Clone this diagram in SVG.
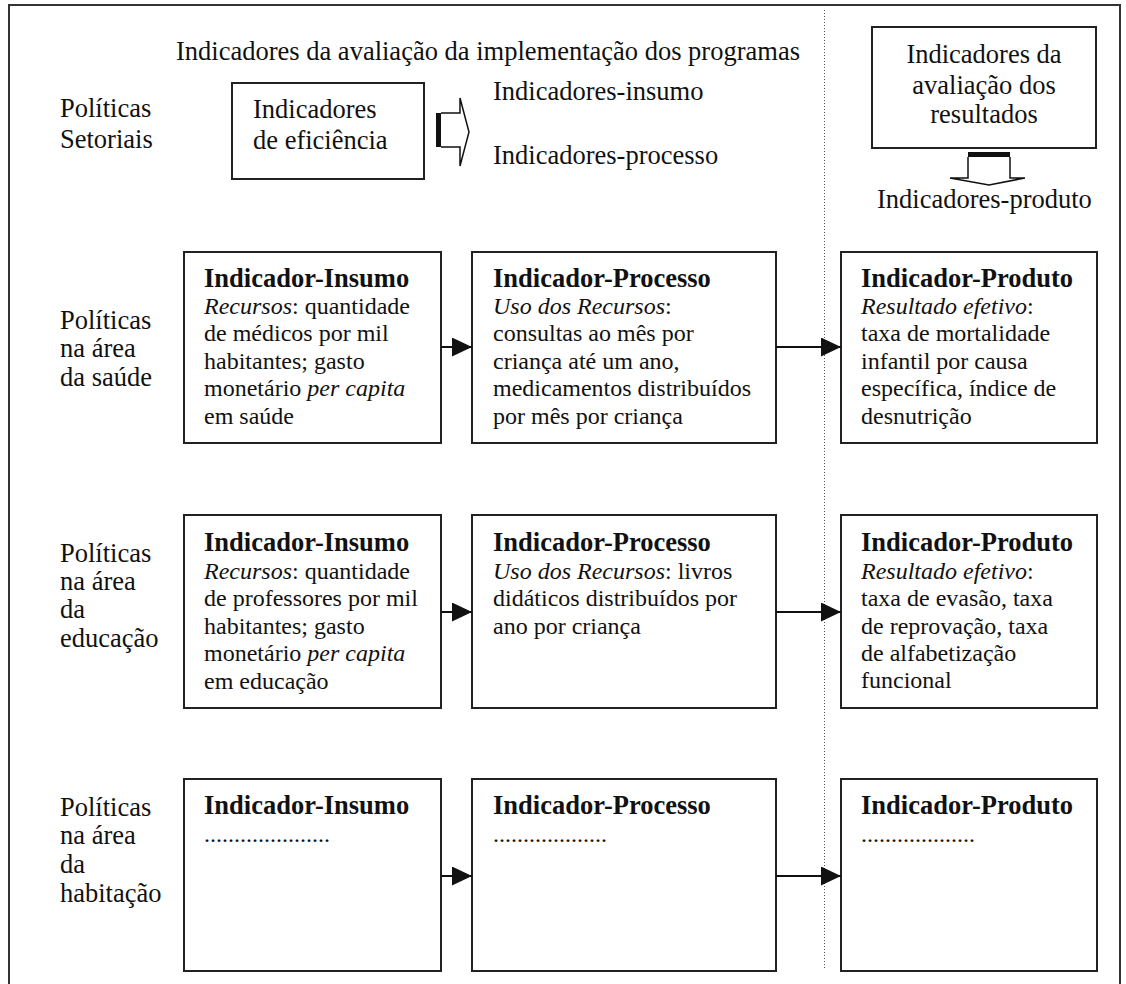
<svg xmlns="http://www.w3.org/2000/svg" width="1126" height="984" viewBox="0 0 1126 984">
<defs>
<style>
text{font-family:"Liberation Serif","Times New Roman",serif;fill:#111}
.l{font-size:26.5px}
.h{font-size:26.5px;font-weight:bold}
.b{font-size:24px}
.box{fill:#fff;stroke:#222;stroke-width:2}
.con{stroke:#111;stroke-width:2;fill:none}
</style>
<marker id="ah" markerWidth="20" markerHeight="19" refX="20" refY="9.5" orient="auto" markerUnits="userSpaceOnUse">
<path d="M0,0 L20,9.5 L0,19 Z" fill="#111"/>
</marker>
</defs>
<rect x="0" y="0" width="1126" height="984" fill="#fff"/>
<path d="M9,990 L9,5 L1120,5 L1120,990" fill="none" stroke="#333" stroke-width="2"/>
<line x1="824.5" y1="10" x2="824.5" y2="970" stroke="#555" stroke-width="1" stroke-dasharray="1,2"/>

<g id="header">
<text class="l" x="176" y="60">Indicadores da avaliação da implementação dos programas</text>
</g>
<g id="label-setoriais">
<text class="l" x="60" y="117">Políticas</text>
<text class="l" x="60" y="148">Setoriais</text>
</g>
<g id="eficiencia">
<rect class="box" x="232" y="83" width="192" height="96"/>
<text class="l" x="253" y="118">Indicadores</text>
<text class="l" x="253" y="149">de eficiência</text>
</g>
<g id="block-arrow-right">
<rect x="436" y="113" width="5" height="34" fill="#111"/>
<path d="M441,113 L460,113 L460,98 L469,132 L460,166 L460,147 L441,147" fill="#fff" stroke="#111" stroke-width="1.5"/>
</g>
<g id="impl-list">
<text class="l" x="493" y="100">Indicadores-insumo</text>
<text class="l" x="493" y="164">Indicadores-processo</text>
</g>
<g id="resultados">
<rect class="box" x="872" y="27" width="224" height="121"/>
<text class="l" x="984" y="63" text-anchor="middle">Indicadores da</text>
<text class="l" x="984" y="94" text-anchor="middle">avaliação dos</text>
<text class="l" x="984" y="123" text-anchor="middle">resultados</text>
</g>
<g id="block-arrow-down">
<rect x="968" y="152" width="42" height="5" fill="#111"/>
<path d="M968,157 L968,178 L950,178 L989,185 L1025,178 L1010,178 L1010,157" fill="#fff" stroke="#111" stroke-width="1.5"/>
<text class="l" x="877" y="208">Indicadores-produto</text>
</g>

<g id="label-saude">
<text class="l" x="60" y="329">Políticas</text>
<text class="l" x="60" y="357">na área</text>
<text class="l" x="60" y="386">da saúde</text>
</g>
<g id="saude-insumo">
<rect class="box" x="184" y="252" width="257" height="191"/>
<text class="h" x="204" y="287">Indicador-Insumo</text>
<text class="b" x="204" y="314"><tspan font-style="italic">Recursos</tspan>: quantidade</text>
<text class="b" x="204" y="341">de médicos por mil</text>
<text class="b" x="204" y="369">habitantes; gasto</text>
<text class="b" x="204" y="396">monetário <tspan font-style="italic">per capita</tspan></text>
<text class="b" x="204" y="424">em saúde</text>
</g>
<g id="saude-processo">
<rect class="box" x="472" y="252" width="304" height="191"/>
<text class="h" x="493" y="287">Indicador-Processo</text>
<text class="b" x="493" y="314"><tspan font-style="italic">Uso dos Recursos</tspan>:</text>
<text class="b" x="493" y="341">consultas ao mês por</text>
<text class="b" x="493" y="369">criança até um ano,</text>
<text class="b" x="493" y="396">medicamentos distribuídos</text>
<text class="b" x="493" y="424">por mês por criança</text>
</g>
<g id="saude-produto">
<rect class="box" x="841" y="252" width="256" height="191"/>
<text class="h" x="861" y="287">Indicador-Produto</text>
<text class="b" x="861" y="314"><tspan font-style="italic">Resultado efetivo</tspan>:</text>
<text class="b" x="861" y="341">taxa de mortalidade</text>
<text class="b" x="861" y="369">infantil por causa</text>
<text class="b" x="861" y="396">específica, índice de</text>
<text class="b" x="861" y="424">desnutrição</text>
</g>

<g id="label-educacao">
<text class="l" x="60" y="562">Políticas</text>
<text class="l" x="60" y="590">na área</text>
<text class="l" x="60" y="618">da</text>
<text class="l" x="60" y="647">educação</text>
</g>
<g id="educacao-insumo">
<rect class="box" x="184" y="515" width="257" height="193"/>
<text class="h" x="204" y="551">Indicador-Insumo</text>
<text class="b" x="204" y="579"><tspan font-style="italic">Recursos</tspan>: quantidade</text>
<text class="b" x="204" y="606">de professores por mil</text>
<text class="b" x="204" y="634">habitantes; gasto</text>
<text class="b" x="204" y="661">monetário <tspan font-style="italic">per capita</tspan></text>
<text class="b" x="204" y="689">em educação</text>
</g>
<g id="educacao-processo">
<rect class="box" x="472" y="515" width="304" height="193"/>
<text class="h" x="493" y="551">Indicador-Processo</text>
<text class="b" x="493" y="579"><tspan font-style="italic">Uso dos Recursos</tspan>: livros</text>
<text class="b" x="493" y="606">didáticos distribuídos por</text>
<text class="b" x="493" y="634">ano por criança</text>
</g>
<g id="educacao-produto">
<rect class="box" x="841" y="515" width="256" height="193"/>
<text class="h" x="861" y="551">Indicador-Produto</text>
<text class="b" x="861" y="579"><tspan font-style="italic">Resultado efetivo</tspan>:</text>
<text class="b" x="861" y="606">taxa de evasão, taxa</text>
<text class="b" x="861" y="634">de reprovação, taxa</text>
<text class="b" x="861" y="661">de alfabetização</text>
<text class="b" x="861" y="688">funcional</text>
</g>

<g id="label-habitacao">
<text class="l" x="60" y="816">Políticas</text>
<text class="l" x="60" y="844">na área</text>
<text class="l" x="60" y="873">da</text>
<text class="l" x="60" y="902">habitação</text>
</g>
<g id="habitacao-insumo">
<rect class="box" x="184" y="779" width="257" height="192"/>
<text class="h" x="204" y="814">Indicador-Insumo</text>
<text class="b" x="204" y="842">.....................</text>
</g>
<g id="habitacao-processo">
<rect class="box" x="472" y="779" width="304" height="192"/>
<text class="h" x="493" y="814">Indicador-Processo</text>
<text class="b" x="493" y="842">...................</text>
</g>
<g id="habitacao-produto">
<rect class="box" x="841" y="779" width="256" height="192"/>
<text class="h" x="861" y="814">Indicador-Produto</text>
<text class="b" x="861" y="842">...................</text>
</g>

<g id="connectors">
<line class="con" x1="441" y1="347" x2="472" y2="347" marker-end="url(#ah)"/>
<line class="con" x1="776" y1="347" x2="841" y2="347" marker-end="url(#ah)"/>
<line class="con" x1="441" y1="612" x2="472" y2="612" marker-end="url(#ah)"/>
<line class="con" x1="776" y1="612" x2="841" y2="612" marker-end="url(#ah)"/>
<line class="con" x1="441" y1="876" x2="472" y2="876" marker-end="url(#ah)"/>
<line class="con" x1="776" y1="876" x2="841" y2="876" marker-end="url(#ah)"/>
</g>
</svg>
